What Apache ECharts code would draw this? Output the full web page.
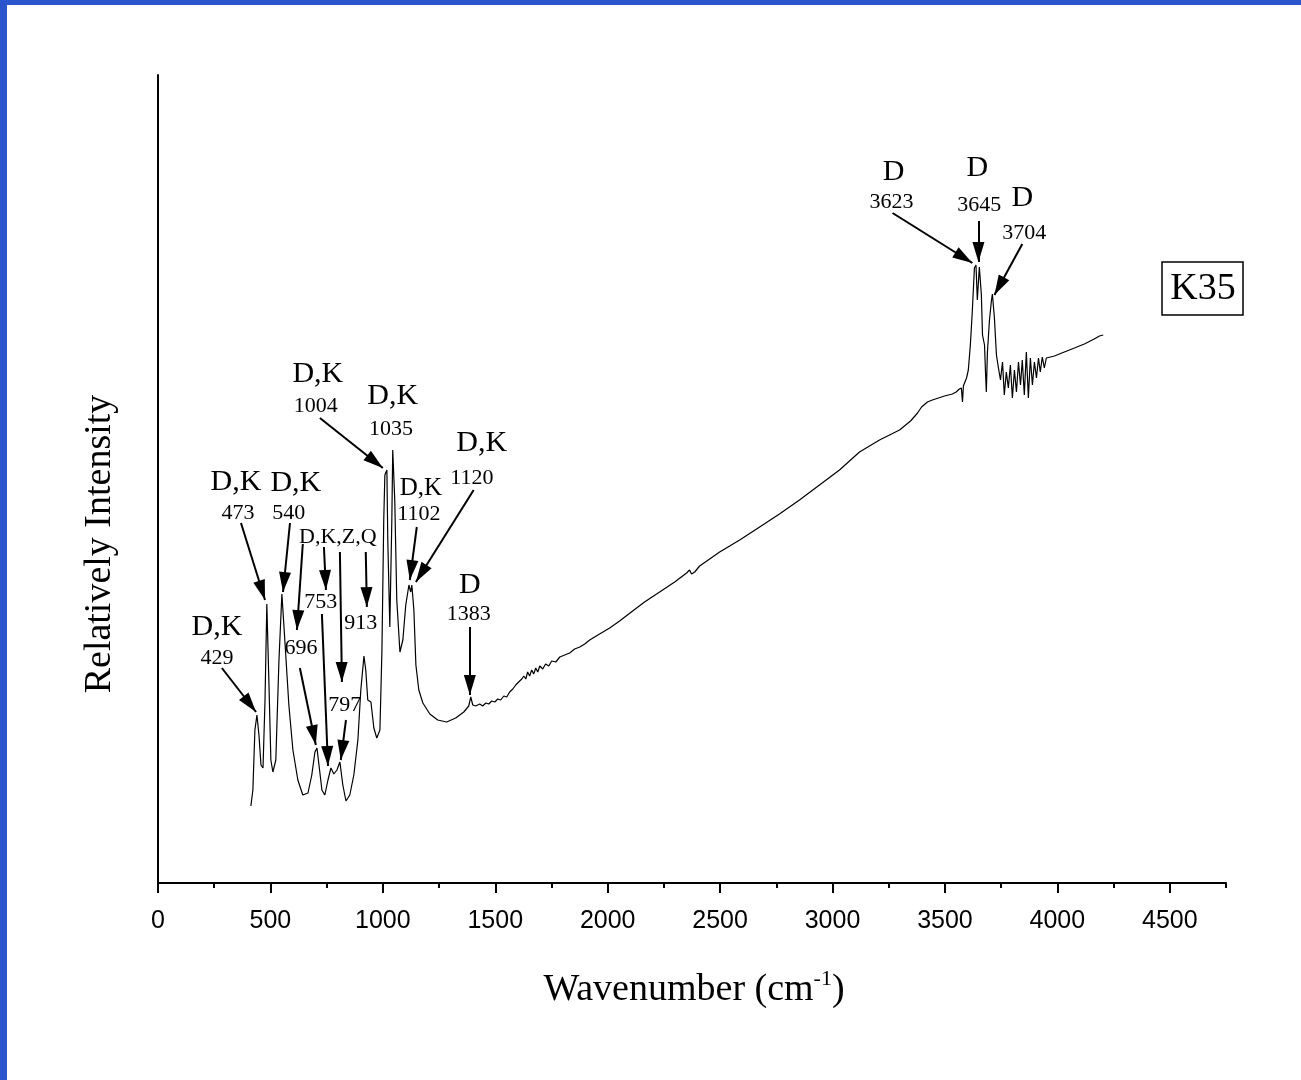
<!DOCTYPE html>
<html><head><meta charset="utf-8">
<script src="https://cdn.jsdelivr.net/npm/echarts@6/dist/echarts.min.js"></script>
<style>html,body{margin:0;padding:0;background:#fff}#c{width:1301px;height:1080px}</style>
</head><body><div id="c"></div>
<script>
// ---- Data ----
const wavenumber = [
 413,422,431,440,449,458,467,476,484,493,502,511,524,538,551,564,582,600,622,644,
 667,684,698,707,716,729,742,756,769,782,796,809,822,836,853,871,889,902,916,924,
 933,947,960,973,987,996,1004,1009,1018,1022,1031,1040,1044,1053,1062,1076,1089,1102,1116,1124,
 1129,1138,1147,1160,1178,1209,1244,1284,1324,1360,1382,1391,1400,1413,1431,1444,1458,1471,1484,1498,
 1511,1524,1538,1551,1564,1578,1591,1604,1618,1627,1636,1644,1653,1662,1671,1680,1689,1698,1711,1724,
 1738,1751,1769,1787,1809,1831,1853,1876,1898,1920,1964,2009,2053,2111,2164,2231,2298,2351,2364,2373,
 2387,2409,2498,2587,2676,2764,2853,2942,3031,3120,3209,3298,3347,3378,3396,3422,3444,3498,3533,3550,
 3564,3573,3578,3582,3587,3596,3604,3613,3622,3631,3638,3644,3653,3662,3667,3676,3680,3684,3689,3698,
 3707,3711,3720,3729,3738,3747,3756,3764,3773,3782,3791,3800,3809,3818,3827,3836,3844,3853,3862,3871,
 3880,3889,3898,3907,3916,3924,3933,3942,3951,3987,4031,4076,4120,4164,4187,4204
];
const intensity = [
 77,93,153,168,148,118,115,183,279,203,123,111,123,223,289,243,178,133,103,88,
 90,108,131,135,118,93,88,103,115,109,113,121,98,82,88,108,143,193,227,213,
 183,181,155,145,153,233,363,408,413,343,256,363,433,383,283,231,243,278,298,291,
 298,273,218,193,180,169,163,161,165,171,177,186,178,177,179,177,180,179,182,181,
 184,183,187,186,191,194,198,201,204,207,204,211,207,213,209,215,211,217,214,219,
 217,222,221,226,228,230,234,236,239,243,249,255,262,272,281,291,301,310,313,309,
 311,317,331,343,356,369,383,398,413,431,443,453,462,470,476,481,483,487,489,491,
 494,495,481,497,499,505,513,538,573,615,618,583,616,588,548,538,513,491,531,563,
 583,589,565,528,515,503,521,488,511,495,518,485,513,491,521,498,523,488,531,485,
 525,498,521,505,525,511,526,515,525,527,531,535,539,544,547,548
];
const xTickValues = [0,500,1000,1500,2000,2500,3000,3500,4000,4500];

// peak annotation texts: [text, wavenumber, intensity, size class]
const labelTexts = [
 ['D,K',262,256,'L'],['429',262,225,'S'],
 ['D,K',347,401,'L'],['473',356,370,'S'],
 ['D,K',613,400,'L'],['540',582,370,'S'],
 ['D,K,Z,Q',800,346,'S'],
 ['753',724,281,'S'],['696',636,235,'S'],['797',831,178,'S'],['913',902,260,'S'],
 ['D,K',711,509,'L'],['1004',702,477,'S'],
 ['D,K',1044,487,'L'],['1035',1036,454,'S'],
 ['D,K',1169,395,'M'],['1102',1160,369,'S'],
 ['D,K',1440,440,'L'],['1120',1396,405,'S'],
 ['D',1387,298,'L'],['1383',1382,269,'S'],
 ['D',3271,711,'L'],['3623',3262,681,'S'],
 ['D',3644,715,'L'],['3645',3653,678,'S'],
 ['D',3844,685,'L'],['3704',3853,650,'S']
];
// arrows: [fromWn, fromI, toWn, toI]
const arrows = [
 [284,215,436,171],
 [369,360,476,283],
 [587,360,556,291],
 [644,339,618,253],
 [631,215,702,138],
 [738,336,747,293],
 [729,269,756,117],
 [809,331,818,201],
 [836,163,813,123],
 [924,331,929,276],
 [720,465,1000,415],
 [1151,356,1120,303],
 [1404,393,1147,301],
 [1387,256,1387,188],
 [3267,670,3622,620],
 [3649,662,3649,621],
 [3844,639,3720,588]
];

// ---- Chart ----
const serif = '"Liberation Serif", "Times New Roman", serif';
const sans = '"Liberation Sans", Arial, sans-serif';
const sizeMap = {L:30, M:25, S:22};
const arrowHead = 'path://M0,0 M6,20 L12,40 L0,40 Z';
const gridBox = {left:158, top:75, right:75, bottom:197};

const chart = echarts.init(document.getElementById('c'), null, {renderer:'canvas'});
const option = {
  animation:false,
  backgroundColor:'#fff',
  grid:[Object.assign({}, gridBox), Object.assign({}, gridBox)],
  xAxis:[
    {type:'value', gridIndex:0, min:0, max:4750, interval:500,
     axisLine:{show:true, onZero:false, lineStyle:{color:'#000', width:2}},
     axisTick:{show:true, inside:false, length:10, customValues:xTickValues, lineStyle:{color:'#000', width:2}},
     axisLabel:{show:true, customValues:xTickValues, margin:26, color:'#000', fontSize:25, fontFamily:sans,
       formatter: v => String(v)},
     splitLine:{show:false}},
    {type:'value', gridIndex:1, min:0, max:4750, interval:250,
     axisLine:{show:false},
     axisTick:{show:true, inside:false, length:5, lineStyle:{color:'#000', width:2}},
     axisLabel:{show:false}, splitLine:{show:false}}
  ],
  yAxis:[
    {type:'value', gridIndex:0, min:0, max:808,
     axisLine:{show:true, onZero:false, lineStyle:{color:'#000', width:2}},
     axisTick:{show:false}, axisLabel:{show:false}, splitLine:{show:false}},
    {type:'value', gridIndex:1, min:0, max:808, show:false}
  ],
  series:[
    {type:'line', xAxisIndex:0, yAxisIndex:0, showSymbol:false, symbol:'none',
     lineStyle:{color:'#000', width:1.2}, silent:true,
     data: wavenumber.map((w,i)=>[w, intensity[i]]),
     markLine:{silent:true, animation:false, symbol:['none', arrowHead], symbolSize:[1,[12,40]],
       label:{show:false}, lineStyle:{color:'#000', width:2, type:'solid', opacity:1},
       emphasis:{disabled:true},
       data: arrows.map(a => [
         {coord:[a[0],a[1]], symbol:'none'},
         {coord:[a[2],a[3]], symbol:arrowHead, symbolSize:[12,40]}
       ])
     }
    },
    {type:'scatter', xAxisIndex:0, yAxisIndex:0, symbolSize:0, silent:true,
     itemStyle:{opacity:1, color:'#000'},
     label:{show:true, position:'inside', color:'#000', opacity:1, fontFamily:serif,
       formatter: p => p.value[2]},
     data: labelTexts.map(t => ({value:[t[1], t[2], t[0]], label:{fontSize:sizeMap[t[3]]}}))
    }
  ],
  graphic:[
    {type:'rect', silent:true, shape:{x:0, y:0, width:7, height:1080}, style:{fill:'#2a55cc'}},
    {type:'rect', silent:true, shape:{x:0, y:0, width:1301, height:5}, style:{fill:'#2a55cc'}},
    {type:'text', silent:true, x:100, y:544, rotation:Math.PI/2,
     style:{text:'Relatively Intensity', fontSize:38, fontFamily:serif, fill:'#000', align:'center', verticalAlign:'middle'}},
    {type:'text', silent:true, x:694, y:990,
     style:{text:'{a|Wavenumber (cm}{s|-1}{a|)}', align:'center', verticalAlign:'middle', fill:'#000',
       rich:{a:{fontSize:38, fontFamily:serif, fill:'#000', lineHeight:44},
             s:{fontSize:22, fontFamily:serif, fill:'#000', verticalAlign:'top', lineHeight:22}}}},
    {type:'rect', silent:true, shape:{x:1162, y:262, width:81, height:53}, style:{fill:'#fff', stroke:'#000', lineWidth:1.5}},
    {type:'text', silent:true, x:1203, y:289,
     style:{text:'K35', fontSize:38, fontFamily:serif, fill:'#000', align:'center', verticalAlign:'middle'}}
  ]
};
chart.setOption(option);
</script>
</body></html>
